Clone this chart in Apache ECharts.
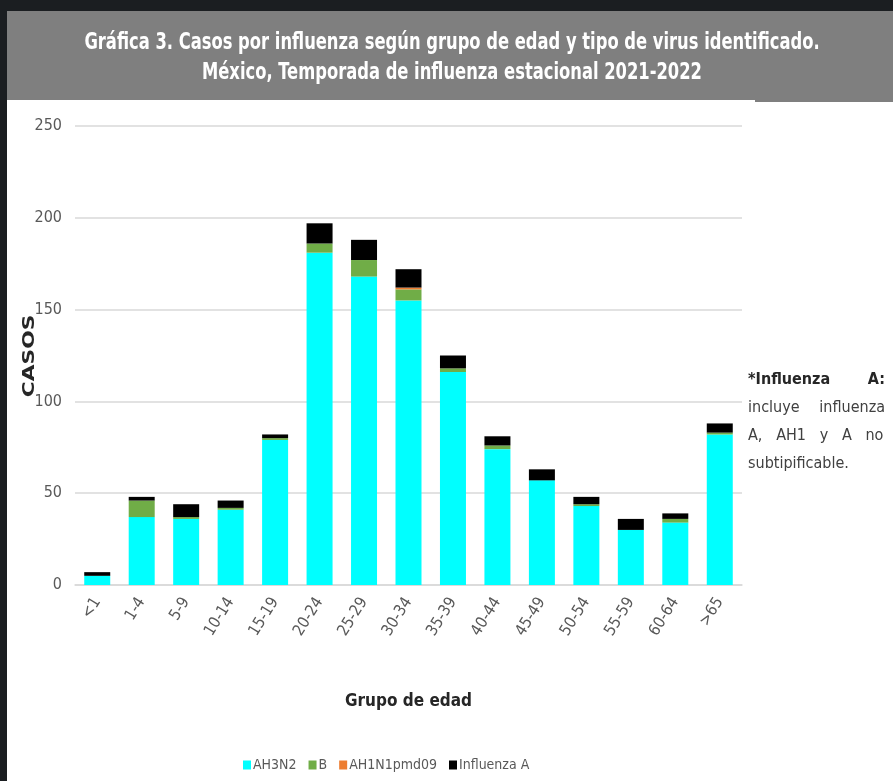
<!DOCTYPE html>
<html>
<head>
<meta charset="utf-8">
<script src="https://cdn.jsdelivr.net/npm/echarts@6/dist/echarts.min.js"></script>
<style>
html, body { margin: 0; padding: 0; background: #1b1e21; }
#chart { width: 893px; height: 781px; }
</style>
</head>
<body>
<div id="chart"></div>
<script>
// grupos de edad
const grupos = ['<1', '1-4', '5-9', '10-14', '15-19', '20-24', '25-29', '30-34',
  '35-39', '40-44', '45-49', '50-54', '55-59', '60-64', '>65']
// casos por tipo de virus
const ah3n2 = [5, 37, 36, 41, 79, 181, 168, 155, 116, 74, 57, 43, 30, 34, 82]
const tipoB = [0, 9, 1, 1, 1, 5, 9, 6, 2, 2, 0, 1, 0, 2, 1]
const ah1n1 = [0, 0, 0, 0, 0, 0, 0, 1, 0, 0, 0, 0, 0, 0, 0]
const influenzaA = [2, 2, 7, 4, 2, 11, 11, 10, 7, 5, 6, 4, 6, 3, 5]

const narrow = '"DejaVu Sans Condensed", "Liberation Sans Narrow", sans-serif'
const gris = '#595959'

function serie(name, data, color) {
  return {
    name: name,
    type: 'bar',
    stack: 'total',
    barWidth: 26,
    itemStyle: { color: color },
    data: data
  }
}

// texto blanco del encabezado, comprimido a lo ancho
function tituloLinea(text, y) {
  return {
    type: 'text',
    x: 452,
    y: y,
    scaleX: 0.79,
    style: {
      text: text,
      align: 'center',
      verticalAlign: 'middle',
      font: 'bold 23px ' + narrow,
      fill: '#ffffff'
    }
  }
}

const chart = echarts.init(document.getElementById('chart'))
const option = {
  backgroundColor: '#1b1e21',
  animation: false,
  graphic: [
    { type: 'rect', shape: { x: 7, y: 11, width: 886, height: 770 }, style: { fill: '#ffffff' }, z: -10 },
    { type: 'rect', shape: { x: 7, y: 11, width: 886, height: 89 }, style: { fill: '#7f7f7f' }, z: -9 },
    { type: 'rect', shape: { x: 755, y: 99, width: 138, height: 3 }, style: { fill: '#7f7f7f' }, z: -9 },
    tituloLinea('Gráfica 3. Casos por influenza según grupo de edad y tipo de virus identificado.', 43),
    tituloLinea('México, Temporada de influenza estacional 2021-2022', 73),
    {
      type: 'text',
      x: 30,
      y: 356,
      rotation: Math.PI / 2,
      scaleX: 1.45,
      style: {
        text: 'CASOS',
        align: 'center',
        verticalAlign: 'middle',
        font: 'bold 15px "DejaVu Sans", sans-serif',
        fill: '#262626'
      }
    },
    { type: 'text', left: 748, top: 372, style: { text: '*Influenza', font: 'bold 16px ' + narrow, fill: '#262626' } },
    { type: 'text', right: 8, top: 372, style: { text: 'A:', font: 'bold 16px ' + narrow, fill: '#262626' } },
    { type: 'text', left: 748, top: 400, style: { text: 'incluye', font: '16px ' + narrow, fill: '#404040' } },
    { type: 'text', right: 8, top: 400, style: { text: 'influenza', font: '16px ' + narrow, fill: '#404040' } },
    { type: 'text', left: 748, top: 428, style: { text: 'A,   AH1   y   A   no', font: '16px ' + narrow, fill: '#404040' } },
    { type: 'text', left: 748, top: 456, style: { text: 'subtipificable.', font: '16px ' + narrow, fill: '#404040' } }
  ],
  legend: {
    bottom: 4,
    left: 238,
    icon: 'rect',
    itemWidth: 8,
    itemHeight: 9,
    itemGap: 12,
    textStyle: { color: gris, fontFamily: narrow, fontSize: 14, padding: [0, 0, 0, -3] },
    data: ['AH3N2', 'B', 'AH1N1pmd09', 'Influenza A']
  },
  grid: {
    left: 75,
    right: 151,
    top: 126,
    bottom: 196
  },
  xAxis: {
    type: 'category',
    data: grupos,
    name: 'Grupo de edad',
    nameLocation: 'middle',
    nameGap: 108,
    nameTextStyle: { color: '#262626', fontFamily: narrow, fontWeight: 'bold', fontSize: 17 },
    axisLine: { lineStyle: { color: '#d9d9d9', width: 1.5 } },
    axisTick: { show: false },
    axisLabel: {
      rotate: 58,
      interval: 0,
      margin: 14,
      color: gris,
      fontFamily: narrow,
      fontSize: 16
    }
  },
  yAxis: {
    type: 'value',
    min: 0,
    max: 250,
    interval: 50,
    axisLine: { show: false },
    axisTick: { show: false },
    axisLabel: { color: gris, fontFamily: narrow, fontSize: 16, margin: 13 },
    splitLine: { lineStyle: { color: '#d9d9d9', width: 1.5 } }
  },
  series: [
    serie('AH3N2', ah3n2, '#00ffff'),
    serie('B', tipoB, '#70ad47'),
    serie('AH1N1pmd09', ah1n1, '#ed7d31'),
    serie('Influenza A', influenzaA, '#000000')
  ]
}
chart.setOption(option)
</script>
</body>
</html>
